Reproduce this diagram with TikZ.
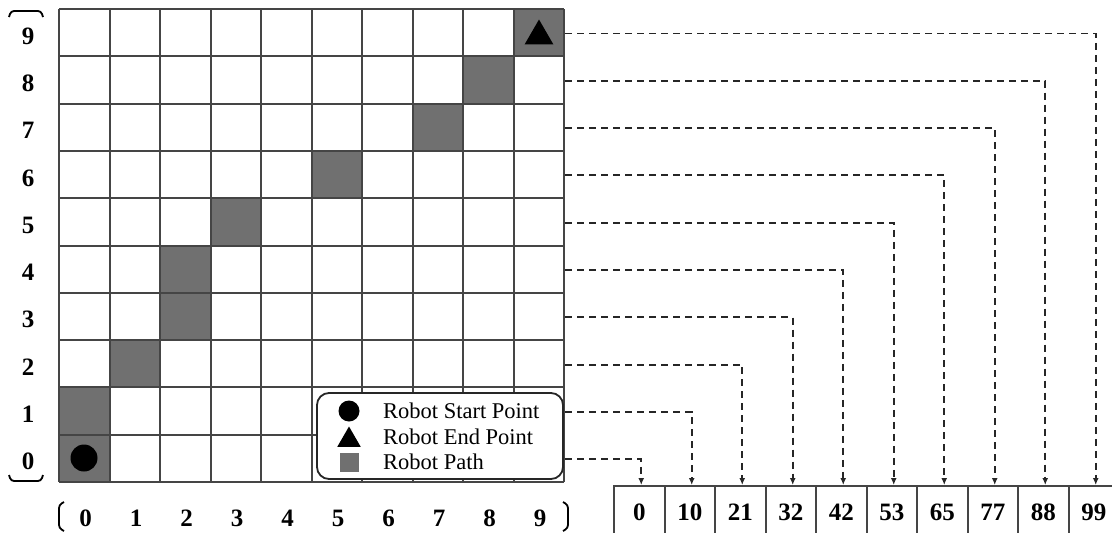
\documentclass[tikz,border=0pt]{standalone}
\usepackage{fontspec}
\setmainfont{Liberation Serif}
\usetikzlibrary{arrows.meta,calc,shapes.geometric}
\definecolor{pathgray}{HTML}{707070}
\definecolor{gridgray}{HTML}{454545}
\begin{document}
\begin{tikzpicture}[x=1pt,y=-1pt,
  gridline/.style={draw=gridgray,line width=2pt},
  pathcell/.style={fill=pathgray},
  lbl/.style={font=\fontsize{25}{26}\selectfont\bfseries,inner sep=0pt},
  legtext/.style={font=\fontsize{22.5}{24}\selectfont,anchor=west,inner sep=0pt},
  arrbox/.style={draw=gridgray,line width=2pt,minimum width=50.5pt,minimum height=52pt,inner sep=0pt,font=\fontsize{25}{26}\selectfont\bfseries},
  link/.style={draw=black!85,line width=1.9pt,dash pattern=on 7pt off 5pt,-{Latex[length=7pt,width=6pt]}},
  brk/.style={draw=black,line width=1.8pt,rounded corners=3pt}]
\useasboundingbox (0,0) rectangle (1112,533);
\fill[white] (0,0) rectangle (1112,533);
% path cells
\foreach \c/\r in {0/0,0/1,1/2,2/3,2/4,3/5,5/6,7/7,8/8,9/9}{
  \fill[pathcell] ({59+50.5*\c},{9+47.3*(9-\r)}) rectangle ++(50.5,47.3);
}
% grid
\foreach \i in {0,...,10}{
  \draw[gridline] ({59+50.5*\i},9) -- ({59+50.5*\i},482);
  \draw[gridline] (59,{9+47.3*\i}) -- (564,{9+47.3*\i});
}
% start and end markers
\node[circle,fill=black,minimum size=27pt,inner sep=0pt] (start) at (84,458) {};
\node[regular polygon,regular polygon sides=3,fill=black,minimum size=33pt,inner sep=0pt] (goal) at (539,36) {};
% row labels
\foreach \r in {0,...,9}{
  \node[lbl] (rl\r) at (28,{9+47.3*(9-\r)+27}) {\r};
  \coordinate (r\r) at (565,{9+47.3*(9-\r)+24.5});
}
% column labels
\foreach \c in {0,...,9}{
  \node[lbl] (cl\c) at ({59+50.5*\c+26.5},518) {\c};
}
% brackets
\draw[brk] (9,17) -- (11,11) -- (41,11) -- (43,17);
\draw[brk] (9,475) -- (11,481) -- (41,481) -- (43,475);
\draw[brk] (64,502) -- (59,505) -- (59,528) -- (64,531);
\draw[brk] (563,502) -- (568,505) -- (568,528) -- (563,531);
% array boxes
\foreach \v [count=\k from 0] in {0,10,21,32,42,53,65,77,88,99}{
  \node[arrbox] (b\k) at ({614+50.5*\k+25.25},512) {\v};
}
% links
\foreach \k in {0,...,9}{
  \draw[link] (r\k) -| ($(b\k.north)+(2,0)$);
}
% legend
\draw[draw=black!85,fill=white,line width=1.8pt,rounded corners=12pt] (317,393) rectangle (563,479);
\node[circle,fill=black,minimum size=21pt,inner sep=0pt] (lc) at (349,411) {};
\node[regular polygon,regular polygon sides=3,fill=black,minimum size=27pt,inner sep=0pt] (lt) at (349,440) {};
\node[fill=pathgray,minimum size=19pt,inner sep=0pt] (ls) at (349,462) {};
\node[legtext] (t1) at (383,411) {Robot Start Point};
\node[legtext] (t2) at (383,437) {Robot End Point};
\node[legtext] (t3) at (383,462) {Robot Path};
\end{tikzpicture}
\end{document}
